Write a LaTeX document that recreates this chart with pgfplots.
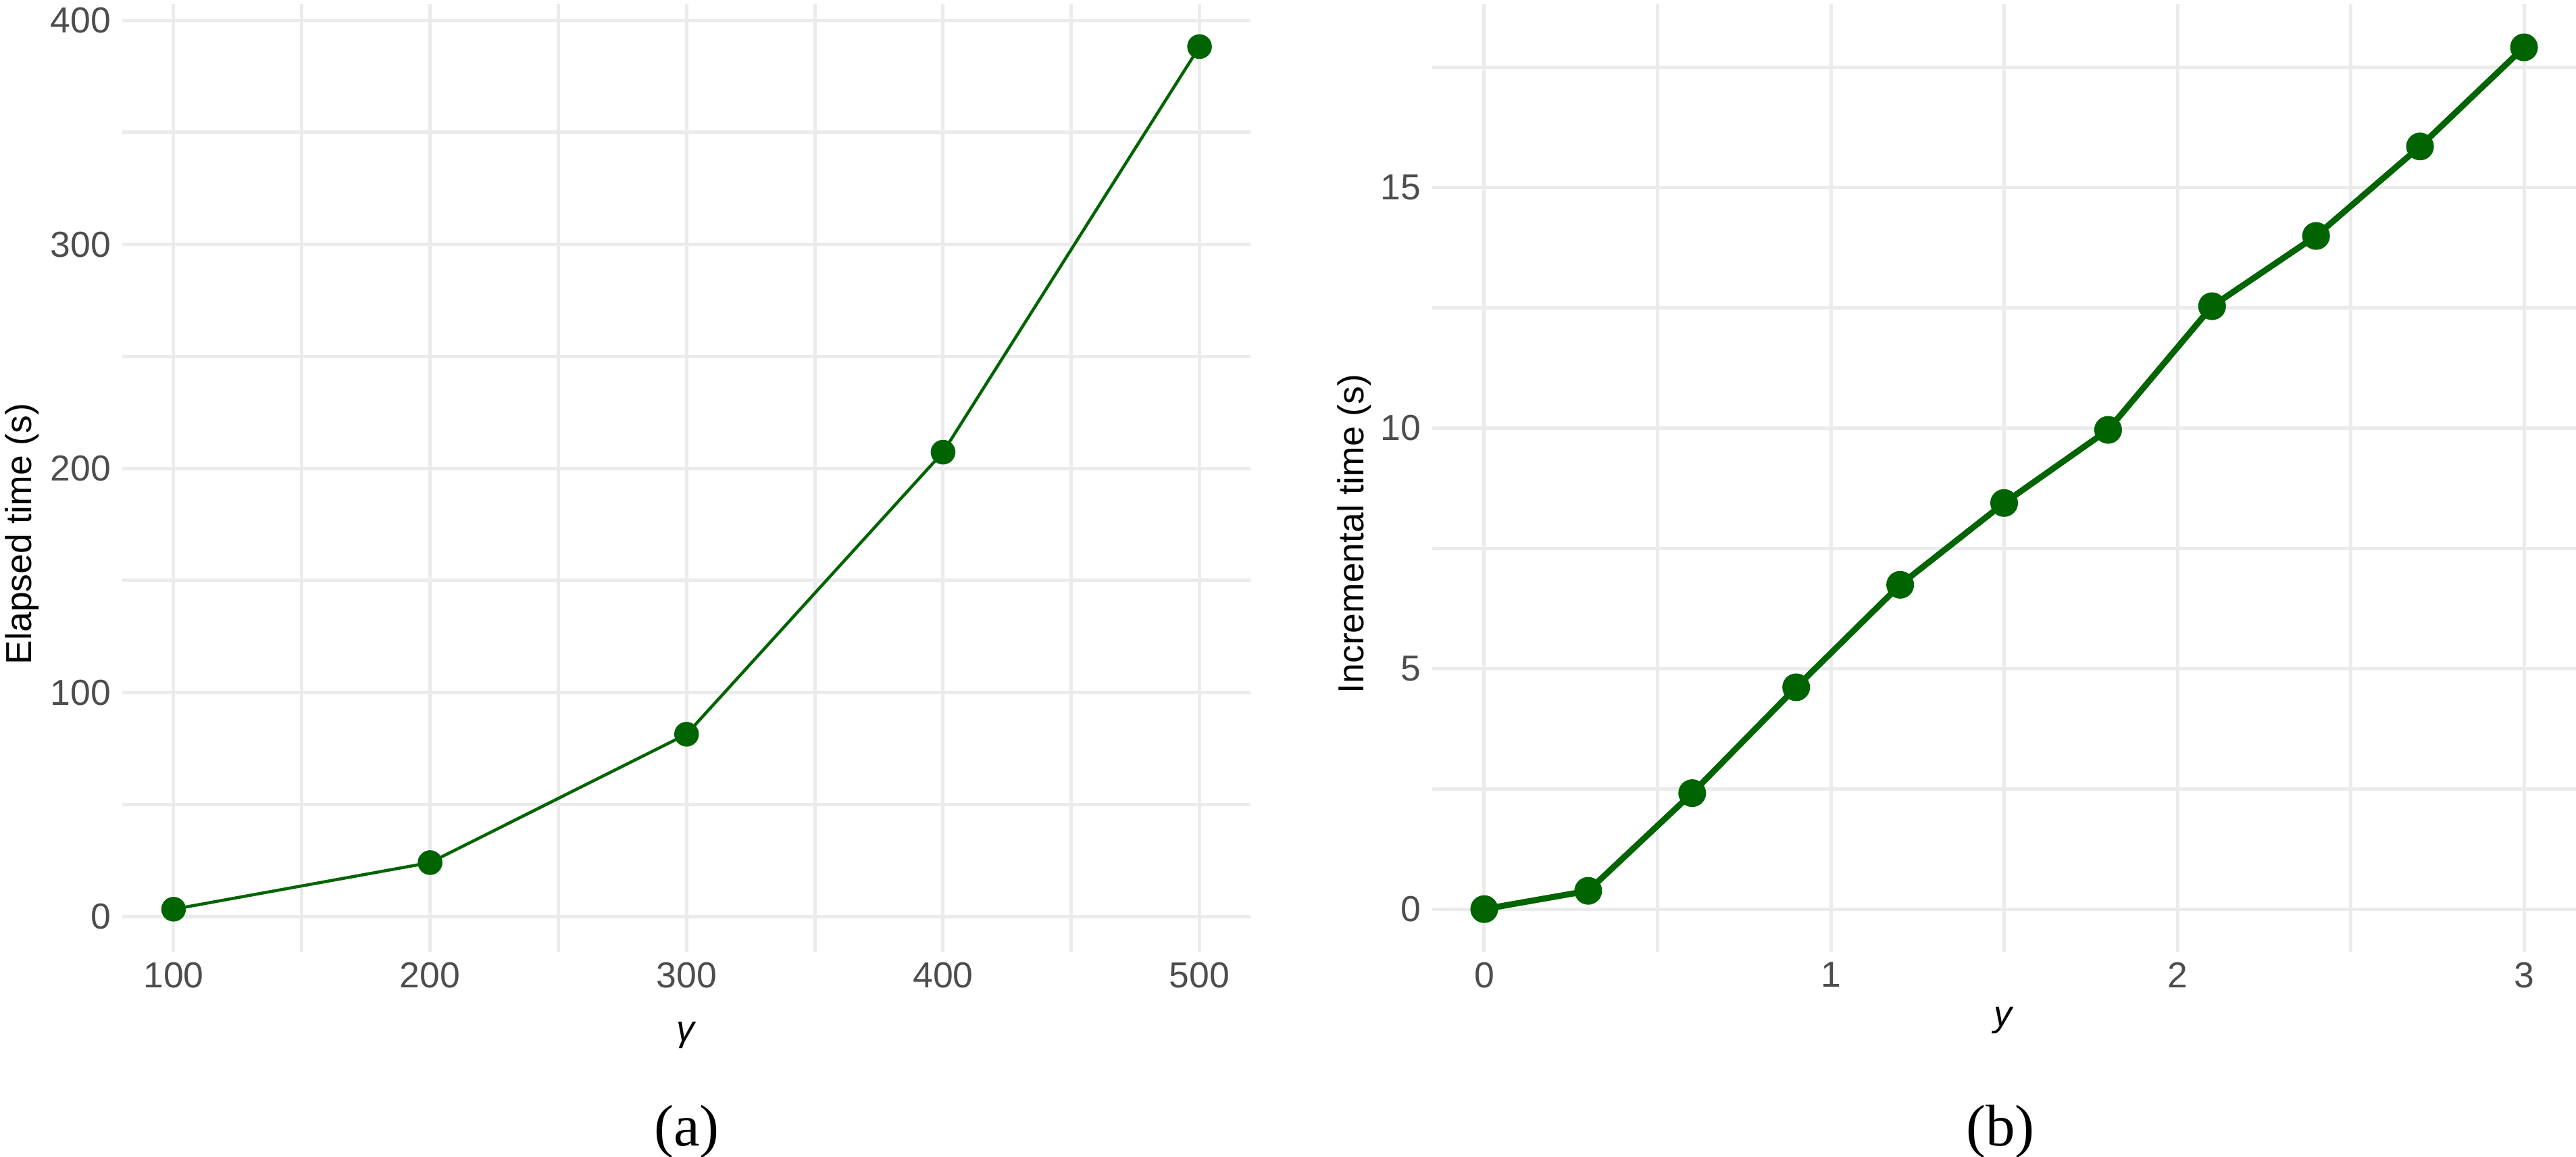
\documentclass[border=0pt]{standalone}
\usepackage{fontspec}
\setmainfont{Liberation Sans}
\newfontfamily\capfont{Liberation Serif}
\usepackage{pgfplots}
\pgfplotsset{compat=1.18}

\definecolor{dgreen}{HTML}{006400}
\definecolor{gridgray}{HTML}{EBEBEB}
\definecolor{ticktext}{HTML}{4D4D4D}

\pgfplotsset{
  gg/.style={
    scale only axis,
    axis line style={draw=none},
    tick style={draw=none},
    major tick length=0pt,
    minor tick length=0pt,
    grid=both,
    major grid style={gridgray, line width=1pt},
    minor grid style={gridgray, line width=1pt},
    /pgf/number format/assume math mode=true,
    ticklabel style={font=\fontsize{10.7}{12}\selectfont, text=ticktext},
    xticklabel style={anchor=north, inner sep=0pt, yshift=-2.8pt},
    yticklabel style={anchor=east, inner sep=0pt, xshift=-3.2pt},
    every axis x label/.style={font=\fontsize{10.7}{12}\selectfont, anchor=base},
    every axis y label/.style={font=\fontsize{10.7}{12}\selectfont, rotate=90, anchor=base},
  },
}

\begin{document}
\begin{tikzpicture}
\path[use as bounding box] (0,0) rectangle (762.6pt,342.4pt);

% (a) elapsed time
\begin{axis}[gg,
    at={(36.2pt,60.6pt)}, anchor=south west,
    width=334.1pt, height=280.6pt,
    xmin=80, xmax=520, ymin=-15.9, ymax=407.3,
    xtick={100,200,300,400,500},
    minor xtick={150,250,350,450},
    ytick={0,100,200,300,400},
    minor ytick={50,150,250,350},
    xlabel={\textit{γ}},
    ylabel={Elapsed time (s)},
    xlabel style={at={(axis description cs:0.5,-0.0934)}},
    ylabel style={at={(axis description cs:-0.0804,0.4412)}},
]
\addplot[dgreen, line width=0.9pt, mark=*, mark size=3.2pt,
    mark options={draw=none, fill=dgreen}]
coordinates {
    (100,3.3)
    (200,24.1)
    (300,81.4)
    (400,207.3)
    (500,388.3)
};
\end{axis}

% (b) incremental time
\begin{axis}[gg,
    at={(424pt,60.6pt)}, anchor=south west,
    width=338.6pt, height=280.6pt,
    xmin=-0.15, xmax=3.15, ymin=-0.896, ymax=18.81,
    xtick={0,1,2,3},
    minor xtick={0.5,1.5,2.5},
    ytick={0,5,10,15},
    minor ytick={2.5,7.5,12.5,17.5},
    xlabel={\textit{y}},
    ylabel={Incremental time (s)},
    xlabel style={at={(axis description cs:0.5,-0.0777)}},
    ylabel style={at={(axis description cs:-0.0600,0.4412)}},
]
\addplot[dgreen, line width=1.8pt, mark=*, mark size=3.2pt,
    mark options={draw=none, fill=dgreen}]
coordinates {
    (0,0)
    (0.3,0.38)
    (0.6,2.41)
    (0.9,4.61)
    (1.2,6.74)
    (1.5,8.44)
    (1.8,9.96)
    (2.1,12.53)
    (2.4,13.99)
    (2.7,15.85)
    (3.0,17.91)
};
\end{axis}

\node[anchor=base, font=\capfont\fontsize{17.4}{20}\selectfont] at (203.3pt,3.2pt) {(a)};
\node[anchor=base, font=\capfont\fontsize{17.4}{20}\selectfont] at (592.2pt,3.2pt) {(b)};
\end{tikzpicture}
\end{document}
